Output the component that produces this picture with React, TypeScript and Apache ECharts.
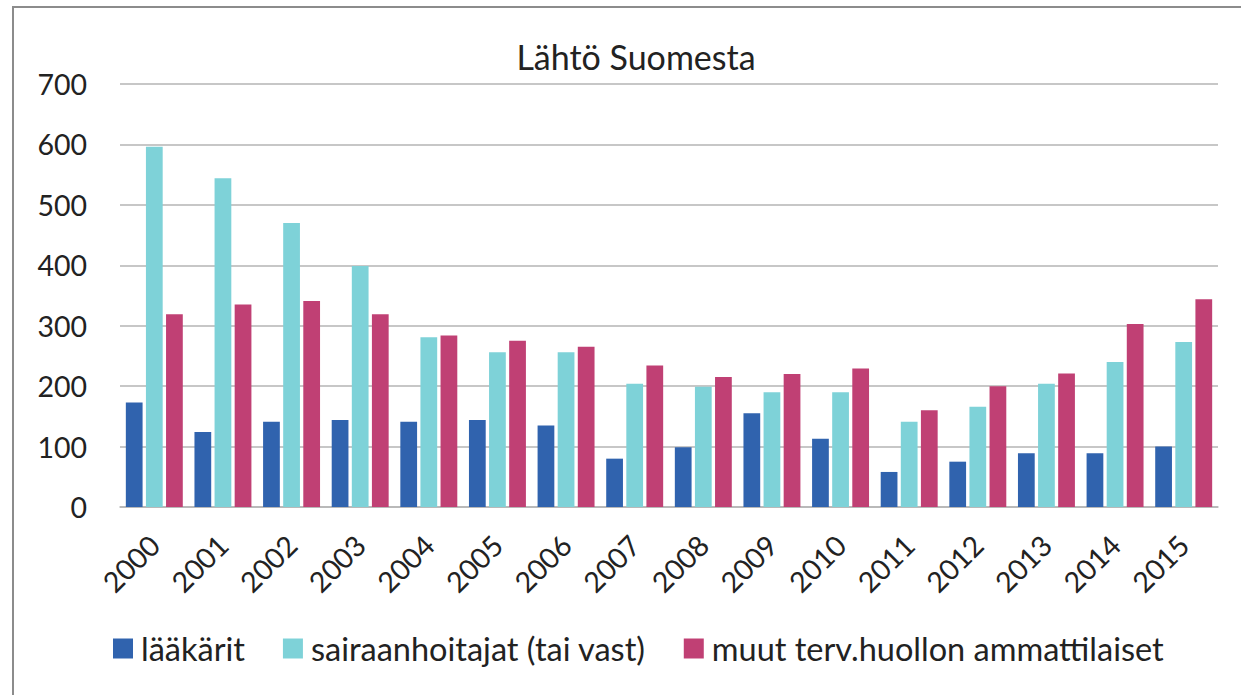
import React, { useEffect, useRef } from "react";
import * as echarts from "echarts";

const years = ["2000","2001","2002","2003","2004","2005","2006","2007","2008","2009","2010","2011","2012","2013","2014","2015"];
const laakarit = [173,124,141,144,141,144,135,80,99,155,113,58,75,89,89,100];
const sairaanhoitajat = [596,544,470,399,281,256,256,204,199,190,190,141,166,204,240,273];
const muut = [319,335,341,319,284,275,265,234,215,220,229,160,200,221,303,344];
const seriesNames = ["lääkärit","sairaanhoitajat (tai vast)","muut terv.huollon ammattilaiset"];
const colors = ["#3063AE","#7ED2D8","#C04074"];
const titleText = "Lähtö Suomesta";

const FONT = "Lato, 'Noto Sans', sans-serif";

export default function App() {
  const ref = useRef<HTMLDivElement>(null);
  useEffect(() => {
    if (!ref.current) return;
    const chart = echarts.init(ref.current, null, { renderer: "svg" });
    const seriesData = [laakarit, sairaanhoitajat, muut];
    chart.setOption({
      animation: false,
      backgroundColor: "#ffffff",
      textStyle: { fontFamily: FONT },
      title: {
        text: titleText,
        left: 631,
        top: 34,
        textAlign: "center",
        textStyle: { fontFamily: FONT, fontSize: 34, fontWeight: "normal", color: "#222" },
      },
      graphic: [
        {
          type: "rect",
          shape: { x: 13, y: 7, width: 1260, height: 720 },
          style: { fill: "none", stroke: "#8c8c8c", lineWidth: 2 },
          silent: true,
        },
      ],
      legend: {
        left: 108,
        top: 627,
        itemWidth: 20,
        itemHeight: 20,
        itemGap: 38,
        icon: "rect",
        textStyle: { fontFamily: FONT, fontSize: 32.5, color: "#222", padding: [0, 0, 0, 3] },
        data: seriesNames,
      },
      grid: { left: 120, right: 23, top: 84, bottom: 188, containLabel: false },
      xAxis: {
        type: "category",
        data: years,
        axisTick: { show: false },
        axisLine: { lineStyle: { color: "#b5b5b5", width: 1.5 } },
        axisLabel: { rotate: 45, margin: 33, fontFamily: FONT, fontSize: 28.5, color: "#222" },
      },
      yAxis: {
        type: "value",
        min: 0,
        max: 700,
        interval: 100,
        axisLine: { show: false },
        axisTick: { show: false },
        splitLine: { lineStyle: { color: "#b5b5b5", width: 1.5 } },
        axisLabel: { margin: 33, fontFamily: FONT, fontSize: 28.5, color: "#222" },
      },
      series: seriesNames.map((name, i) => ({
        name,
        type: "bar",
        data: seriesData[i],
        itemStyle: { color: colors[i] },
        barGap: "20%",
        barCategoryGap: "17%",
      })),
    });
    return () => chart.dispose();
  }, []);
  return <div ref={ref} style={{ position: "absolute", left: 0, top: 0, width: 1241, height: 695 }} />;
}
